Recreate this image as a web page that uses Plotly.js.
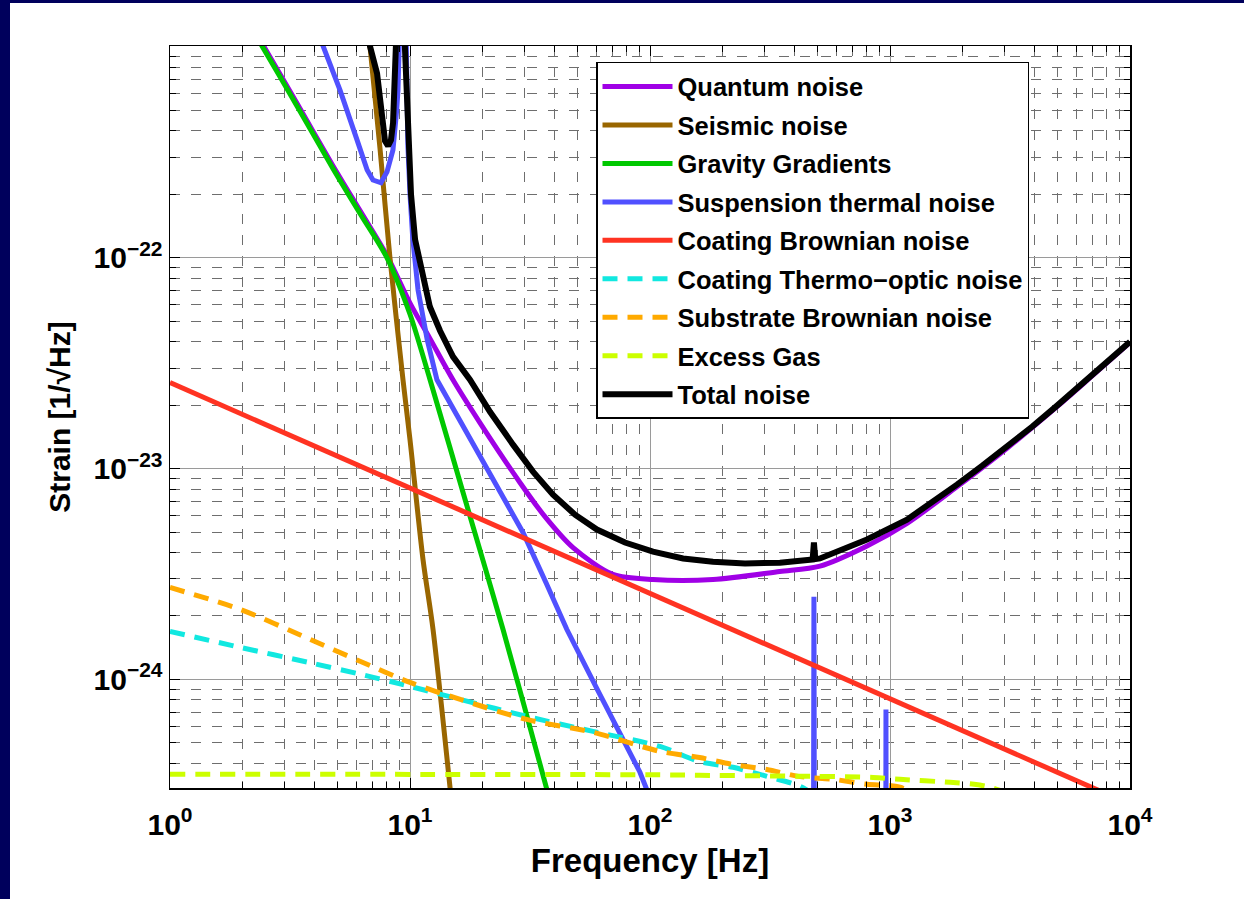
<!DOCTYPE html>
<html><head><meta charset="utf-8">
<script src="https://cdn.plot.ly/plotly-3.0.1.min.js"></script>
<style>
html,body{margin:0;padding:0;background:#00005c;width:1244px;height:899px;overflow:hidden;}
#frame{position:absolute;left:10px;top:3px;width:1234px;height:896px;background:#fff;}
#chart{width:1234px;height:896px;}
</style></head><body><div id="frame"><div id="chart"></div></div>
<script>
// ---------------- data ----------------
const quantumF = [2.0, 2.42, 3.4, 4.78, 6.2, 8.0, 10, 12.1, 15.1, 19.57, 28.7, 36.5, 47.8, 70.1, 103, 183, 347, 511, 802, 1177, 1901, 3073, 4966, 6620, 10000];
const quantumV = [1.52e-21, 1.04e-21, 5.35e-22, 2.73e-22, 1.67e-22, 1.03e-22, 6.1e-23, 4.15e-23, 2.64e-23, 1.65e-23, 8.6e-24, 5.92e-24, 4.22e-24, 3.15e-24, 2.98e-24, 2.98e-24, 3.25e-24, 3.45e-24, 4.3e-24, 5.5e-24, 8.2e-24, 1.25e-23, 1.97e-23, 2.62e-23, 3.97e-23];

const seismicF = [6.5, 6.81, 7.5, 8.25, 9.35, 10.0, 11.33, 12.47, 14.68, 16];
const seismicV = [1.78e-21, 1.01e-21, 3.3e-22, 1.0e-22, 2.64e-23, 1.37e-23, 3.7e-24, 1.73e-24, 3.08e-25, 1.2e-25];

const gravityF = [2.0, 2.42, 3.4, 4.78, 6.2, 8.02, 10.0, 12.12, 17.0, 24.4, 37.2, 45];
const gravityV = [1.45e-21, 1.01e-21, 5.2e-22, 2.65e-22, 1.62e-22, 1.0e-22, 5.4e-23, 2.64e-23, 7.08e-24, 1.73e-24, 3.0e-25, 1.3e-25];

const suspensionF = [4.0, 4.34, 5.11, 6.02, 6.63, 7.01, 7.57, 8.02, 8.49, 8.8, 8.91, 9.1, 9.3, 9.6, 9.8, 10.0, 10.26, 10.8, 11.8, 12.95, 17.8, 22, 29.6, 37, 45.0, 60, 75, 90.8, 97, 120, 478, 482, 486, 958, 962, 966, 10000];
const suspensionV = [1.29e-21, 1.01e-21, 6.25e-22, 3.62e-22, 2.61e-22, 2.34e-22, 2.27e-22, 2.56e-22, 3.25e-22, 5.02e-22, 6.25e-22, 1.5e-21, 5e-21, 1.5e-21, 3.4e-22, 2.0e-22, 1.25e-22, 7.05e-23, 4.08e-23, 2.64e-23, 1.39e-23, 9.06e-24, 4.97e-24, 2.85e-24, 1.73e-24, 9.06e-25, 5.55e-25, 3.63e-25, 3.0e-25, 1.2e-25, 1e-26, 2.47e-24, 1e-26, 1e-26, 7.2e-25, 1e-26, 1e-27];

const coatBrownF = [1, 10, 100, 1000, 10000];
const coatBrownV = [2.56e-23, 8.1e-24, 2.56e-24, 8.1e-25, 2.56e-25];

const thermoOpticF = [1, 1.96, 3.83, 6.19, 10, 16.2, 30.6, 57.9, 110, 161, 222, 307, 422, 600];
const thermoOpticV = [1.69e-24, 1.42e-24, 1.2e-24, 1.06e-24, 9.27e-25, 8.04e-25, 6.68e-25, 5.67e-25, 4.81e-25, 4.08e-25, 3.83e-25, 3.47e-25, 3.11e-25, 2.4e-25];

const substrateF = [1, 1.96, 3.83, 6.19, 10, 16.2, 30.6, 57.9, 110, 161, 222, 307, 422, 579, 802, 1101, 1500];
const substrateV = [2.73e-24, 2.15e-24, 1.55e-24, 1.22e-24, 9.68e-25, 8.04e-25, 6.46e-25, 5.61e-25, 4.56e-25, 4.26e-25, 3.95e-25, 3.74e-25, 3.46e-25, 3.36e-25, 3.18e-25, 3.08e-25, 2.5e-25];

const gasF = [1, 100, 161, 482, 850, 1100, 1780, 2240, 2610, 4000];
const gasV = [3.55e-25, 3.53e-25, 3.51e-25, 3.47e-25, 3.43e-25, 3.36e-25, 3.25e-25, 3.18e-25, 3.08e-25, 2.6e-25];

const totalF = [6.3, 6.81, 7.29, 7.64, 7.87, 8.1, 8.33, 8.5, 8.83, 9.2, 9.52, 9.81, 10.1, 10.5, 11.22, 12.1, 13.34, 15.1, 17.78, 21.54, 26.87, 32.54, 39.43, 48.7, 60.1, 78.7, 102.9, 137.3, 183, 248.8, 348, 476, 482, 488, 511, 802, 1177, 1496, 1901, 2417, 3073, 3906, 4966, 6620, 8254, 10000];
const totalV = [2e-21, 1.01e-21, 7.5e-22, 4.37e-22, 3.58e-22, 3.4e-22, 3.62e-22, 4.37e-22, 1.01e-21, 5e-21, 1.01e-21, 3.63e-22, 1.99e-22, 1.22e-22, 8.4e-23, 5.86e-23, 4.51e-23, 3.4e-23, 2.64e-23, 1.86e-23, 1.3e-23, 9.68e-24, 7.53e-24, 6.05e-24, 5.14e-24, 4.46e-24, 4.04e-24, 3.75e-24, 3.62e-24, 3.55e-24, 3.58e-24, 3.71e-24, 4.46e-24, 3.72e-24, 3.75e-24, 4.61e-24, 5.73e-24, 6.91e-24, 8.4e-24, 1.03e-23, 1.27e-23, 1.58e-23, 1.99e-23, 2.64e-23, 3.29e-23, 4.0e-23];

const seriesNames = ['Quantum noise', 'Seismic noise', 'Gravity Gradients', 'Suspension thermal noise', 'Coating Brownian noise', 'Coating Thermo\u2212optic noise', 'Substrate Brownian noise', 'Excess Gas', 'Total noise'];

const xTickVals = [1, 10, 100, 1000, 10000];
const xTickText = ['10<sup>0</sup>', '10<sup>1</sup>', '10<sup>2</sup>', '10<sup>3</sup>', '10<sup>4</sup>'];
const yTickVals = [1e-24, 1e-23, 1e-22];
const yTickText = ['10<sup>\u221224</sup>', '10<sup>\u221223</sup>', '10<sup>\u221222</sup>'];

// ---------------- styling ----------------
const FONT = 'Liberation Sans, Arial, Helvetica, sans-serif';
const colors = ['#a000e6', '#996600', '#00c800', '#5050ff', '#ff3322', '#11e8e0', '#ffaa00', '#ccff00', '#000000'];
const dashes = ['solid', 'solid', 'solid', 'solid', 'solid', '15px,10px', '15px,10px', '15px,10px', 'solid'];
const shapes = ['spline', 'spline', 'spline', 'linear', 'linear', 'spline', 'spline', 'spline', 'linear'];
const widths = [5, 5, 5, 5, 5, 5, 5, 5, 6];
const xs = [quantumF, seismicF, gravityF, suspensionF, coatBrownF, thermoOpticF, substrateF, gasF, totalF];
const ys = [quantumV, seismicV, gravityV, suspensionV, coatBrownV, thermoOpticV, substrateV, gasV, totalV];

const traces = seriesNames.map((n, i) => ({
  type: 'scatter', mode: 'lines', name: n, x: xs[i], y: ys[i],
  legendgroup: 'g' + i,
  line: {color: colors[i], width: widths[i], dash: dashes[i], shape: shapes[i], smoothing: 0.8},
  hoverinfo: 'skip'
}));

function minorTicks(lo, hi) {
  const out = [];
  for (let e = lo; e < hi; e++) for (let d = 2; d <= 9; d++) out.push(d * Math.pow(10, e));
  return out;
}

const axisCommon = {
  type: 'log', showline: true, linecolor: '#000', linewidth: 1.5, mirror: 'ticks',
  ticks: 'inside', ticklen: 10, tickwidth: 1, tickcolor: '#000',
  showgrid: true, gridcolor: '#9a9a9a', gridwidth: 1,
  zeroline: false, tickmode: 'array',
  tickfont: {family: FONT, size: 30, color: '#000', weight: 'bold'}
};

const layout = {
  width: 1234, height: 896,
  margin: {l: 160, r: 114, t: 43, b: 111},
  paper_bgcolor: '#ffffff', plot_bgcolor: '#ffffff',
  showlegend: true,
  xaxis: Object.assign({}, axisCommon, {
    range: [0, 4], tickvals: xTickVals, ticktext: xTickText, ticklabelstandoff: 9,
    minor: {tickmode: 'array', tickvals: minorTicks(0, 4), ticks: 'inside', ticklen: 6, tickcolor: '#000',
            showgrid: true, gridcolor: '#6e6e6e', gridwidth: 1, griddash: '10px,11px'},
    title: {text: 'Frequency [Hz]', font: {family: FONT, size: 33, color: '#000', weight: 'bold'}, standoff: 9}
  }),
  yaxis: Object.assign({}, axisCommon, {
    range: [-24.515, -20.995], tickvals: yTickVals, ticktext: yTickText,
    minor: {tickmode: 'array', tickvals: minorTicks(-25, -21), ticks: 'inside', ticklen: 6, tickcolor: '#000',
            showgrid: true, gridcolor: '#6e6e6e', gridwidth: 1, griddash: '10px,11px'},
    title: {text: 'Strain [1/\u221aHz]', font: {family: FONT, size: 30, color: '#000', weight: 'bold'}, standoff: 14}
  }),
  legend: {
    x: 0.44375, y: 0.9785, xanchor: 'left', yanchor: 'top',
    bgcolor: '#ffffff', bordercolor: '#000', borderwidth: 1.5,
    font: {family: FONT, size: 25.5, color: '#000', weight: 'bold'},
    tracegroupgap: 2.3, itemwidth: 70
  }
};

Plotly.newPlot('chart', traces, layout, {displayModeBar: false, staticPlot: true});
</script></body></html>
